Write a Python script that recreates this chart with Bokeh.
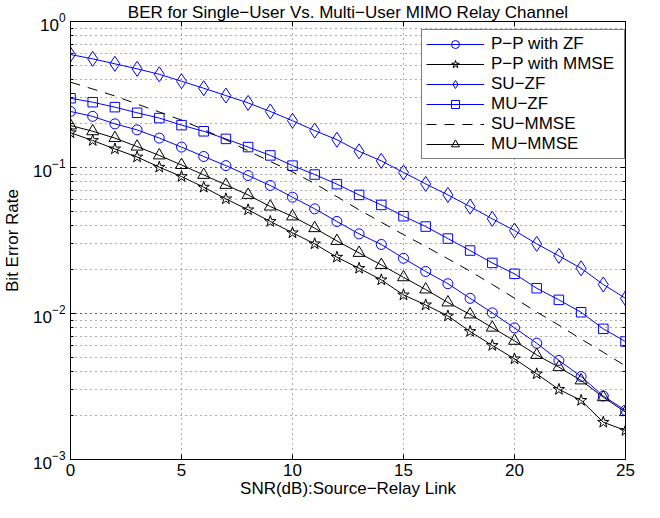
from bokeh.plotting import figure
from bokeh.models import LogAxis, LinearAxis, FixedTicker, ColumnDataSource, CustomJSTickFormatter
from bokeh.embed import file_html
from bokeh.resources import INLINE

# ---- data ----
snr = list(range(26))
x_ticks = [0, 5, 10, 15, 20, 25]

pp_zf = [0.242, 0.224, 0.199, 0.181, 0.159, 0.138, 0.119, 0.103, 0.0881, 0.0753,
         0.0626, 0.0521, 0.0427, 0.0351, 0.0297, 0.0239, 0.0194, 0.0160, 0.0127, 0.0101,
         0.00797, 0.00626, 0.00477, 0.0037, 0.00272, 0.00217]
pp_mmse = [0.173, 0.153, 0.134, 0.118, 0.1005, 0.0867, 0.0733, 0.061, 0.0513, 0.0427,
           0.0357, 0.030, 0.0243, 0.0204, 0.017, 0.0134, 0.01145, 0.00962, 0.00753, 0.00604,
           0.00489, 0.00386, 0.00302, 0.00254, 0.0018, 0.00158]
su_zf = [0.594, 0.555, 0.513, 0.474, 0.435, 0.390, 0.349, 0.311, 0.277, 0.242,
         0.209, 0.179, 0.155, 0.129, 0.111, 0.0925, 0.0772, 0.0649, 0.054, 0.0445,
         0.037, 0.030, 0.0248, 0.0204, 0.0158, 0.0127]
mu_zf = [0.298, 0.280, 0.259, 0.237, 0.218, 0.195, 0.177, 0.157, 0.138, 0.121,
         0.103, 0.0895, 0.0769, 0.0649, 0.0554, 0.0464, 0.0394, 0.0326, 0.027, 0.0222,
         0.0187, 0.0149, 0.0124, 0.0102, 0.00785, 0.00643]
su_mmse = [0.384, 0.345, 0.309, 0.272, 0.240, 0.211, 0.182, 0.155, 0.130, 0.110,
           0.0933, 0.0776, 0.0631, 0.0513, 0.0422, 0.0347, 0.0288, 0.0237, 0.0195, 0.0158,
           0.01274, 0.01023, 0.00832, 0.00668, 0.00543, 0.00437]
mu_mmse = [0.194, 0.177, 0.159, 0.139, 0.121, 0.104, 0.0890, 0.0760, 0.0649, 0.054,
           0.0462, 0.0384, 0.0314, 0.026, 0.0215, 0.0177, 0.0146, 0.0119, 0.00985, 0.00800,
           0.00650, 0.0052, 0.00429, 0.00348, 0.00267, 0.00211]

labels = ["P\u2212P with ZF", "P\u2212P with MMSE", "SU\u2212ZF", "MU\u2212ZF", "SU\u2212MMSE", "MU\u2212MMSE"]
title_text = "BER for Single\u2212User Vs. Multi\u2212User MIMO Relay Channel"
x_label = "SNR(dB):Source\u2212Relay Link"
y_label = "Bit Error Rate"

FONT = "Liberation Sans"
FS = "17px"
BLUE = "#0000ff"
BLACK = "#000000"

src = ColumnDataSource(dict(snr=snr, pp_zf=pp_zf, pp_mmse=pp_mmse, su_zf=su_zf,
                            mu_zf=mu_zf, su_mmse=su_mmse, mu_mmse=mu_mmse))

p = figure(width=644, height=502, y_axis_type="log", x_range=(0, 25), y_range=(1e-3, 1),
           output_backend="svg", toolbar_location=None, title=title_text,
           min_border_left=69, min_border_right=19, min_border_top=21, min_border_bottom=43)

p.background_fill_color = "white"
p.border_fill_color = "white"
p.outline_line_color = BLACK
p.outline_line_width = 1

p.title.text_font = FONT
p.title.text_font_size = FS
p.title.text_font_style = "normal"
p.title.align = "center"
p.title.standoff = 0
p.title.text_color = BLACK

# axes
p.xaxis.ticker = FixedTicker(ticks=x_ticks)
p.xaxis.axis_label = x_label
p.yaxis.axis_label = y_label
for ax in (p.xaxis[0], p.yaxis[0]):
    ax.axis_label_text_font = FONT
    ax.axis_label_text_font_size = FS
    ax.axis_label_text_font_style = "normal"
    ax.axis_label_text_color = BLACK
    ax.major_label_text_font = FONT
    ax.major_label_text_font_size = FS
    ax.major_label_text_color = BLACK
    ax.major_tick_in = 5
    ax.major_tick_out = 0
    ax.minor_tick_in = 3
    ax.minor_tick_out = 0
    ax.major_tick_line_color = BLACK
    ax.minor_tick_line_color = BLACK
    ax.axis_line_color = BLACK
p.xaxis.minor_tick_line_color = None
p.xaxis.major_label_standoff = 4
p.xaxis.axis_label_standoff = 0
p.yaxis.major_label_standoff = 5
p.yaxis.axis_label_standoff = 8

right = LogAxis(formatter=CustomJSTickFormatter(code="return '';"), major_label_text_font_size="1px",
                major_label_standoff=0,
                major_tick_in=5, major_tick_out=0, minor_tick_in=3, minor_tick_out=0,
                axis_line_color=BLACK, major_tick_line_color=BLACK, minor_tick_line_color=BLACK)
p.add_layout(right, "right")
top = LinearAxis(ticker=FixedTicker(ticks=x_ticks), formatter=CustomJSTickFormatter(code="return '';"),
                 major_label_text_font_size="1px",
                 major_label_standoff=0, major_tick_in=5, major_tick_out=0,
                 minor_tick_line_color=None, axis_line_color=BLACK, major_tick_line_color=BLACK)
p.add_layout(top, "above")

# grid (MATLAB style dotted)
for g in (p.xgrid, p.ygrid):
    g.grid_line_color = "#333333"
    g.grid_line_dash = "1 4"
    g.grid_line_alpha = 0.8
p.ygrid.minor_grid_line_color = "#333333"
p.ygrid.minor_grid_line_dash = "1 4"
p.ygrid.minor_grid_line_alpha = 0.8

# series: (column, colour, marker, size, label, dash)
series = [
    ("pp_zf", BLUE, "circle", 10, labels[0], "solid"),
    ("pp_mmse", BLACK, "star", 12, labels[1], "solid"),
    ("su_zf", BLUE, "diamond", 15, labels[2], "solid"),
    ("mu_zf", BLUE, "square", 9.5, labels[3], "solid"),
    ("su_mmse", BLACK, None, 0, labels[4], "10 8"),
    ("mu_mmse", BLACK, "triangle", 12, labels[5], "solid"),
]
for col, color, marker, size, lab, dash in series:
    p.line("snr", col, source=src, line_color=color, line_width=1, line_dash=dash, legend_label=lab)
    if marker:
        p.scatter("snr", col, source=src, marker=marker, size=size, fill_color=None,
                  line_color=color, line_width=1, legend_label=lab)

lg = p.legend[0]
lg.location = (351, 300)
lg.border_line_color = BLACK
lg.border_line_width = 1
lg.background_fill_color = "white"
lg.background_fill_alpha = 1
lg.label_text_font = FONT
lg.label_text_font_size = FS
lg.label_text_color = BLACK
lg.padding = 4
lg.margin = 0
lg.spacing = 0
lg.label_height = 20
lg.glyph_height = 20
lg.glyph_width = 58
lg.label_standoff = 7
lg.label_width = 129

open("out.html", "w").write(file_html(p, INLINE))
